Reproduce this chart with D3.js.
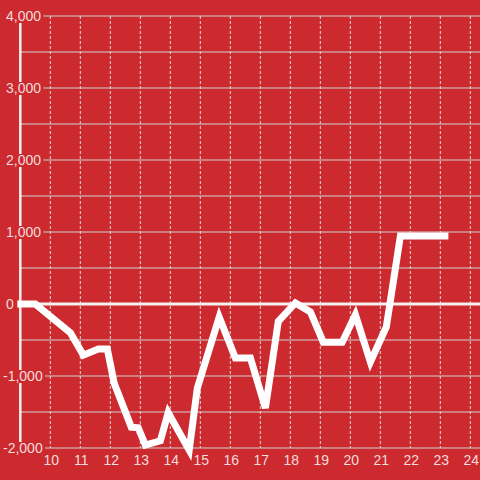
<!DOCTYPE html>
<html>
<head>
<meta charset="utf-8">
<script src="https://cdn.jsdelivr.net/npm/d3@7"></script>
<style>
  html, body { margin: 0; padding: 0; background: #cc2a2f; }
  svg { display: block; }
  text { font-family: "Liberation Sans", Arial, sans-serif; }
</style>
</head>
<body>
<div id="chart"></div>
<script>
// Chart data
const hours = [8.9, 9.5, 10.67, 11.1, 11.6, 11.9, 12.13, 12.7, 12.93, 13.17, 13.67, 13.93,
  14.63, 14.9, 15.63, 16.17, 16.67, 17.17, 17.6, 18.17, 18.67, 19.1, 19.73, 20.17,
  20.67, 21.2, 21.67, 23.27];
const values = [0, 0, -400, -710, -625, -625, -1100, -1710, -1720, -1960, -1900, -1510,
  -2030, -1170, -180, -750, -750, -1445, -240, 15, -110, -530, -530, -150,
  -805, -320, 945, 945];
const xTicks = [10, 11, 12, 13, 14, 15, 16, 17, 18, 19, 20, 21, 22, 23, 24];
const yTicks = [-2000, -1000, 0, 1000, 2000, 3000, 4000];
const yGrid = [-2000, -1500, -1000, -500, 0, 500, 1000, 1500, 2000, 2500, 3000, 3500, 4000];

const width = 480;
const height = 480;
const bg = "#cc2a2f";
const labelColor = "#f3dcdc";

const svg = d3.select("#chart")
  .append("svg")
  .attr("width", width)
  .attr("height", height);

svg.append("rect")
  .attr("width", width)
  .attr("height", height)
  .attr("fill", bg);

const x = d3.scaleLinear().domain([9, 24]).range([20.3, 470.3]);
const y = d3.scaleLinear().domain([-2000, 4000]).range([448, 16]);

// vertical dashed grid
svg.selectAll(".vgrid")
  .data(xTicks)
  .enter()
  .append("line")
  .attr("x1", d => x(d))
  .attr("x2", d => x(d))
  .attr("y1", y(4000))
  .attr("y2", y(-2000))
  .attr("stroke", "#dcdcdc")
  .attr("stroke-width", 1)
  .attr("stroke-dasharray", "3,2");

// horizontal grid
svg.selectAll(".hgrid")
  .data(yGrid.filter(d => d !== 0))
  .enter()
  .append("line")
  .attr("x1", x(9))
  .attr("x2", width)
  .attr("y1", d => y(d))
  .attr("y2", d => y(d))
  .attr("stroke", "#d2d2d2")
  .attr("stroke-width", 1.2);

// zero line
svg.append("line")
  .attr("x1", x(9))
  .attr("x2", width)
  .attr("y1", y(0))
  .attr("y2", y(0))
  .attr("stroke", "#f4f0f0")
  .attr("stroke-width", 3);

// y axis line
svg.append("line")
  .attr("x1", x(9))
  .attr("x2", x(9))
  .attr("y1", y(4000))
  .attr("y2", y(-2000))
  .attr("stroke", "#f4f0f0")
  .attr("stroke-width", 2.5);

// data line
const points = hours.map((h, i) => [h, values[i]]);
const line = d3.line()
  .x(d => x(d[0]))
  .y(d => y(d[1]));

svg.append("path")
  .datum(points)
  .attr("d", line)
  .attr("fill", "none")
  .attr("stroke", "white")
  .attr("stroke-width", 7)
  .attr("stroke-linejoin", "miter")
  .attr("stroke-linecap", "butt");

// y labels with background boxes
const fmt = d3.format(",");
const yLab = svg.selectAll(".ylab")
  .data(yTicks)
  .enter()
  .append("g");

yLab.append("text")
  .attr("x", d => d < 0 ? 3 : 6)
  .attr("y", d => y(d))
  .attr("dy", "0.36em")
  .attr("font-size", "14px")
  .attr("fill", labelColor)
  .text(d => fmt(d).replace("−", "-"));

yLab.each(function(d) {
  const g = d3.select(this);
  const bb = g.select("text").node().getBBox();
  g.insert("rect", "text")
    .attr("x", bb.x - 1)
    .attr("y", y(d) - 6)
    .attr("width", bb.width + 3)
    .attr("height", 13)
    .attr("fill", bg);
});

// x labels
svg.selectAll(".xlab")
  .data(xTicks)
  .enter()
  .append("text")
  .attr("x", d => x(d) + 1)
  .attr("y", 460)
  .attr("dy", "0.36em")
  .attr("text-anchor", "middle")
  .attr("font-size", "14px")
  .attr("fill", labelColor)
  .text(d => d);
</script>
</body>
</html>
